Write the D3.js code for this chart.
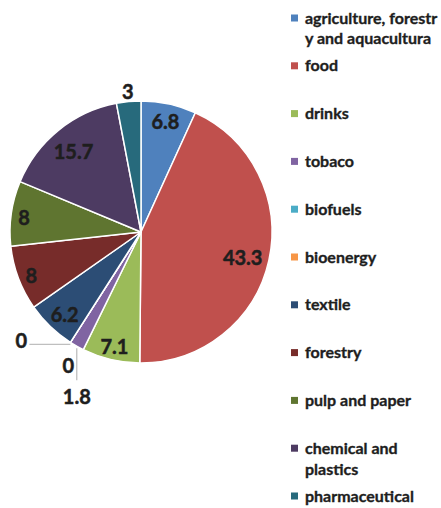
<!DOCTYPE html>
<html><head><meta charset="utf-8">
<script src="https://cdn.jsdelivr.net/npm/d3@7"></script>
<style>
html,body{margin:0;padding:0;background:#fff;}
svg{display:block;}
</style></head>
<body>
<div id="chart"></div>
<script>
// ---- data ----
const categories = ["agriculture, forestry and aquacultura","food","drinks","tobaco","biofuels","bioenergy","textile","forestry","pulp and paper","chemical and plastics","pharmaceutical"];
const legendLines = [["agriculture, forestr","y and aquacultura"],["food"],["drinks"],["tobaco"],["biofuels"],["bioenergy"],["textile"],["forestry"],["pulp and paper"],["chemical and","plastics"],["pharmaceutical"]];
const values = [6.8, 43.3, 7.1, 1.8, 0, 0, 6.2, 8, 8, 15.7, 3];
const labels = ["6.8","43.3","7.1","1.8","0","0","6.2","8","8","15.7","3"];
const colors = ["#4F81BD","#C0504D","#9BBB59","#8064A2","#4BACC6","#F79646","#2C4D75","#772C2A","#5F7530","#4D3B62","#276A7C"];

const W = 441, H = 508;
const svg = d3.select("#chart").append("svg").attr("width", W).attr("height", H);

const cx = 141, cy = 232, R = 131;
const g = svg.append("g").attr("transform", `translate(${cx},${cy})`);

const pie = d3.pie().sort(null).value(d => d)(values);
const arc = d3.arc().innerRadius(0).outerRadius(R);

g.selectAll("path.slice").data(pie).join("path")
  .attr("class","slice")
  .attr("d", arc)
  .attr("fill", (d,i) => colors[i])
  .attr("stroke", "#fff")
  .attr("stroke-width", 1.5)
  .attr("stroke-linejoin","round");

const font = "Lato, 'Open Sans', sans-serif";
const txtColor = "#1e1e1e";

function mid(d){ return (d.startAngle + d.endAngle) / 2; }
function pt(a, r){ return [Math.sin(a) * r, -Math.cos(a) * r]; }

const lab = g.append("g").attr("font-family", font).attr("font-weight", 700)
  .attr("font-size", 20).attr("fill", txtColor)
  .attr("stroke", txtColor).attr("stroke-width", 0.5);

pie.forEach((d, i) => {
  const a = mid(d);
  const t = lab.append("text").text(labels[i]).attr("text-anchor","middle").attr("dy","0.5em");
  const bb = t.node().getBBox();
  const hw = bb.width / 2, hh = 7;
  const ux = Math.sin(a), uy = -Math.cos(a);
  if (values[i] >= 5) {
    const ext = hw * Math.abs(ux) + hh * Math.abs(uy);
    const r = R - 6 - ext;
    const [x, y] = pt(a, r);
    t.attr("x", x).attr("y", y);
  } else if (values[i] > 2) {
    const ext = hw * Math.abs(ux) + hh * Math.abs(uy);
    const [x, y] = pt(a, R + 2 + ext);
    t.attr("x", x).attr("y", y - 3);
  } else {
    const [px, py] = pt(a, R);
    let line, lx, ly;
    if (i === 3) {          // tobaco: vertical leader downward
      line = [[px, py + 2], [px, py + 34]];
      lx = px; ly = py + 48;
    } else if (i === 4) {   // biofuels: horizontal leader left
      line = [[px, py + 2], [px - 41, py + 2]];
      lx = px - 49; ly = py - 4;
    } else {                // bioenergy: just below
      line = null;
      lx = px - 2; ly = py + 21;
    }
    if (line) {
      g.append("path").attr("d", d3.line()(line))
        .attr("fill","none").attr("stroke","#bfbfbf").attr("stroke-width",1.3);
    }
    t.attr("x", lx).attr("y", ly);
  }
});

// ---- legend ----
const ly = d3.scalePoint().domain(categories).range([18, 496]);
const leg = svg.append("g").attr("font-family", font).attr("font-weight", 700)
  .attr("font-size", 16).attr("fill", txtColor)
  .attr("stroke", txtColor).attr("stroke-width", 0.35);
categories.forEach((c, i) => {
  const y = ly(c);
  leg.append("rect").attr("x", 291).attr("y", y - 3.5).attr("width", 7).attr("height", 7)
    .attr("fill", colors[i]).attr("stroke", "none");
  const t = leg.append("text").attr("x", 305).attr("y", y);
  legendLines[i].forEach((s, k) => {
    t.append("tspan").attr("x", 305).attr("dy", k === 0 ? "0.35em" : "1.3em").text(s);
  });
});
</script>
</body></html>
